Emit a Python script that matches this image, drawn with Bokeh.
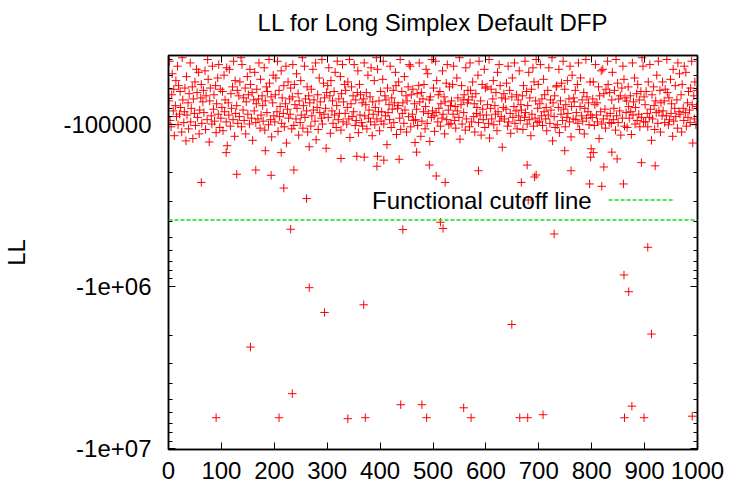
import numpy as np
from bokeh.plotting import figure
from bokeh.models import (Range1d, FixedTicker, LogAxis, LinearAxis, Span, Label,
                          CustomJSTickFormatter, ColumnDataSource)
from bokeh.embed import file_html
from bokeh.resources import INLINE

# ---------------- texts ----------------
TITLE = "LL for Long Simplex Default DFP"
Y_LABEL = "LL"
LEGEND_TEXT = "Functional cutoff line"

# ---------------- ticks ----------------
x_ticks = [0, 100, 200, 300, 400, 500, 600, 700, 800, 900, 1000]
y_major = [100000, 1000000, 10000000]          # magnitudes of LL
y_major_labels = ["-100000", "-1e+06", "-1e+07"]
y_minor = [40000, 50000, 60000, 70000, 80000, 90000,
           200000, 300000, 400000, 500000, 600000, 700000, 800000, 900000,
           2000000, 3000000, 4000000, 5000000, 6000000, 7000000, 8000000, 9000000]

# ---------------- data (LL = -value) ----------------
cutoff_negll = 390000

# dense band of converged runs (in thousands, LL = -value*1000)
band_negll_k = [
    72,41,95,104,66,49,83,61,118,77,54,90,44,101,58,87,63,79,112,39,71,98,84,60,127,
    51,88,74,107,65,42,97,80,59,123,70,86,55,102,46,64,91,48,115,82,69,57,99,73,62,
    85,47,108,67,94,40,53,129,72,60,89,100,44,81,66,96,58,113,75,52,87,43,105,61,92,
    79,63,110,50,84,71,97,45,136,74,88,46,103,65,80,59,94,41,119,54,86,77,62,99,67,
    90,55,39,104,43,82,69,95,60,115,73,51,87,66,100,46,57,92,64,126,71,83,48,98,75,
    61,93,70,42,106,53,88,67,77,96,45,109,72,59,85,63,101,40,56,94,68,120,74,50,89,
    97,66,52,84,41,111,62,90,78,47,99,69,86,58,104,75,44,131,81,55,92,70,87,60,107,
    68,43,102,57,76,93,49,80,65,117,72,98,54,88,39,106,77,44,91,70,83,59,112,67,138,
    74,103,61,89,46,82,71,96,42,125,79,66,108,52,85,73,92,40,100,56,87,69,80,141,64,
    58,91,45,67,114,54,83,72,99,63,88,48,105,77,41,94,70,86,51,109,65,43,97,73,57,
    86,62,100,79,55,93,40,121,75,59,90,67,84,43,102,71,95,64,47,113,57,88,66,98,74,
    103,70,42,89,76,64,107,50,92,82,68,97,45,118,73,87,54,101,79,39,93,46,84,72,110,
    63,96,84,53,41,100,67,89,71,134,60,85,76,94,44,105,69,81,62,98,74,48,58,116,80,
    77,55,92,40,108,63,86,74,99,51,82,67,112,72,59,90,43,44,104,66,87,61,95,75,130,
    94,81,65,102,58,42,73,119,64,96,70,84,57,107,78,46,99,49,86,71,128,68,91,40,83,
    60,89,111,41,85,54,97,66,80,63,103,75,92,47,87,68,115,73,56,94,43,82,101,59,77,
    99,72,57,87,44,95,78,106,52,83,69,91,39,124,76,58,100,71,85,66,109,45,93,74,62,
    71,104,42,62,97,68,55,90,75,112,65,86,79,50,98,41,88,72,117,57,81,94,46,105,60,
    88,59,76,99,40,122,80,61,93,70,54,101,77,87,64,110,48,84,43,96,58,90,69,139,79,
    65,93,70,81,56,103,44,97,62,86,114,68,52,91,78,42,99,83,66,107,71,89,47,95,76,
    82,67,108,58,91,41,85,63,100,77,48,94,69,118,61,87,45,103,55,92,72,40,98,80,57,
    96,75,43,89,70,102,53,84,66,93,79,110,62,88,45,99,71,82,39,127,74,90,67,105,59,
    58,101,79,46,113,72,87,56,95,41,81,61,104,76,91,54,86,70,97,44,120,78,50,93,69,
    73,62,94,85,57,99,42,108,78,52,89,71,96,64,115,80,40,92,68,84,74,101,55,88,142,
    91,70,55,102,76,43,88,74,97,59,123,67,84,47,100,46,93,65,81,106,61,89,41,57,98,
    64,86,99,71,48,94,80,62,109,40,89,56,98,70,83,67,117,60,92,44,53,103,69,85,72,
    105,59,78,92,67,84,116,42,88,73,52,100,79,65,95,57,87,71,104,63,91,39,44,97,68,
    76,97,63,86,104,55,91,43,81,126,66,93,59,77,108,72,85,50,99,41,83,62,112,74,89,
    55,83,72,98,61,89,40,64,101,69,94,53,86,75,119,46,96,80,58,90,71,106,42,84,49,
    87,66,112,57,80,95,44,85,48,103,74,91,63,82,98,60,41,76,131,67,93,55,101,78,62,
]
# run numbers of those band points (runs 1..1000, every fourth run is elsewhere / missing)
band_runs = [r for r in range(1, 1001) if r % 4 != 0][:len(band_negll_k)]

# sparse points between the band and the cutoff (thousands)
sparse_runs = [62, 109, 129, 165, 183, 194, 213, 237, 218, 261, 326, 356, 370, 395, 394,
               407, 436, 469, 493, 506, 523, 586, 678, 667, 692, 695, 761, 749, 798, 803,
               838, 823, 848, 796, 819, 860, 894, 920, 680]
sparse_negll_k = [229, 150, 204, 192, 146, 207, 150, 192, 248, 288, 163, 158, 160, 158, 182,
                  167, 165, 149, 179, 209, 229, 194, 179, 229, 212, 206, 194, 146, 160, 150,
                  149, 184, 164, 234, 242, 234, 173, 181, 294]

# failed fits below the cutoff (thousands)
outlier_runs = [231, 443, 514, 519, 729, 906, 861, 870, 266, 295, 369, 155, 234, 90, 209,
                339, 372, 439, 479, 488, 558, 572, 649, 664, 679, 708, 862, 876, 899, 913, 990]
outlier_negll_k = [445, 447, 403, 440, 476, 575, 852, 1080, 1020, 1450, 1300, 2370, 4590,
                   6460, 6460, 6550, 6460, 5370, 5370, 6460, 5610, 6460, 1720, 6460, 6460,
                   6190, 6460, 5480, 6460, 1970, 6320]

runs = band_runs + sparse_runs + outlier_runs
negll = [v * 1000 for v in band_negll_k + sparse_negll_k + outlier_negll_k]
src = ColumnDataSource(dict(run=runs, negll=negll))

# ---------------- figure ----------------
FONT = "Liberation Sans"
Y_TOP, Y_BOTTOM = 3.78e4, 1.014e7

p = figure(width=730, height=491, output_backend="svg", toolbar_location=None,
           title=None, y_axis_type="log",
           x_range=Range1d(0, 1000), y_range=Range1d(Y_BOTTOM, Y_TOP),
           min_border_left=168, min_border_right=33, min_border_top=55, min_border_bottom=42)
p.background_fill_color = "white"
p.border_fill_color = "white"
p.grid.visible = False
p.outline_line_color = "black"
p.outline_line_width = 1.5

empty_fmt = CustomJSTickFormatter(code="return '';")


def style_axis(ax):
    ax.axis_line_color = "black"
    ax.axis_line_width = 1.5
    ax.major_tick_in = 7
    ax.major_tick_out = 0
    ax.minor_tick_in = 4
    ax.minor_tick_out = 0
    ax.major_tick_line_color = "black"
    ax.minor_tick_line_color = "black"
    ax.major_label_text_font = FONT
    ax.major_label_text_font_size = "24px"
    ax.major_label_text_color = "black"


# bottom x axis
xa = p.xaxis[0]
xa.ticker = FixedTicker(ticks=x_ticks, minor_ticks=[])
style_axis(xa)
xa.major_label_standoff = 12

# left y axis
ya = p.yaxis[0]
ya.ticker = FixedTicker(ticks=y_major, minor_ticks=y_minor)
ya.formatter = CustomJSTickFormatter(
    args=dict(vals=y_major, labs=y_major_labels),
    code="for (let i = 0; i < vals.length; i++) { if (Math.abs(vals[i] - tick) < 1e-6 * vals[i]) return labs[i]; } return '';")
style_axis(ya)
ya.major_label_standoff = 17
ya.axis_label = Y_LABEL
ya.axis_label_text_font = FONT
ya.axis_label_text_font_size = "24px"
ya.axis_label_text_font_style = "normal"
ya.axis_label_text_color = "black"
ya.axis_label_standoff = 30

# mirrored axes
ra = LogAxis(ticker=FixedTicker(ticks=y_major, minor_ticks=y_minor), formatter=empty_fmt)
style_axis(ra)
ra.major_label_text_font_size = "1px"
ra.major_label_standoff = 0
p.add_layout(ra, "right")

# top mirrored axis, which also carries the chart title
ta = LinearAxis(ticker=FixedTicker(ticks=x_ticks, minor_ticks=[]), formatter=empty_fmt)
style_axis(ta)
ta.major_label_text_font_size = "1px"
ta.major_label_standoff = 0
ta.axis_label = TITLE
ta.axis_label_text_font = FONT
ta.axis_label_text_font_size = "24px"
ta.axis_label_text_font_style = "normal"
ta.axis_label_text_color = "black"
ta.axis_label_standoff = 20
p.add_layout(ta, "above")

# points
p.scatter("run", "negll", source=src, marker="cross", size=8.5,
          line_color="#ff0000", line_width=1.0)

# cutoff line
GREEN = "#11e011"
p.add_layout(Span(location=cutoff_negll, dimension="width", line_color=GREEN,
                  line_width=1.5, line_dash="4 2"))

# key (text then sample, gnuplot style)
key_text_run = 800
key_negll = 294000
p.add_layout(Label(x=key_text_run, y=key_negll, text=LEGEND_TEXT, text_align="right",
                   text_baseline="middle", text_font=FONT, text_font_size="24px",
                   text_color="black"))
p.segment(x0=[832], y0=[key_negll], x1=[957], y1=[key_negll], line_color=GREEN,
          line_width=1.5, line_dash="4 2")

open("out.html", "w").write(file_html(p, INLINE))
